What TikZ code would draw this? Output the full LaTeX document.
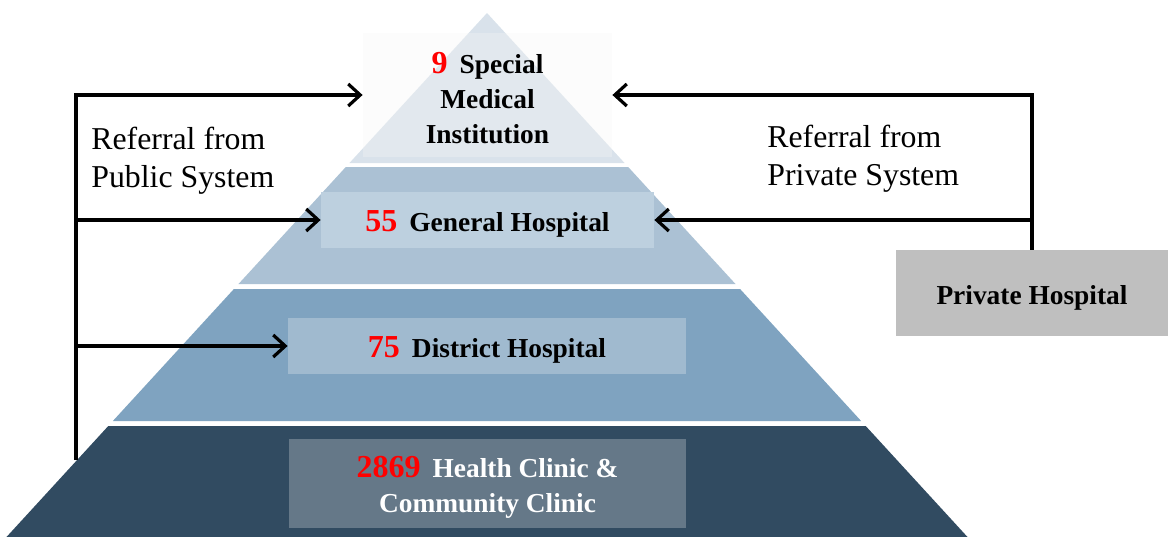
\documentclass[tikz,border=0pt]{standalone}
\usepackage{fontspec}
\setmainfont{Liberation Serif}
\usetikzlibrary{
  arrows.meta,
  positioning
}
\definecolor{tierA}{HTML}{D9E2EB}
\definecolor{tierB}{HTML}{ABC1D4}
\definecolor{tierC}{HTML}{7FA3C0}
\definecolor{tierD}{HTML}{314B61}
\definecolor{boxB}{HTML}{BDD0DF}
\definecolor{boxC}{HTML}{A0BACF}
\definecolor{boxD}{HTML}{657888}
\definecolor{privgray}{HTML}{BFBFBF}
\tikzset{
  lblbox/.style={
    font=\fontsize{13.7}{17.5}\selectfont\bfseries,
    align=center,
    inner sep=0pt,
  },
  oneline/.style={
    lblbox,
    text height=11pt,
    text depth=0pt,
  },
  privbox/.style={
    oneline,
    fill=privgray,
    minimum width=136pt,
    minimum height=43pt,
  },
  reftext/.style={
    font=\fontsize{15.9}{19}\selectfont,
    align=left,
    anchor=west,
    inner sep=0pt,
  },
  arr/.style={
    line width=1.6pt,
    -{Straight Barb[length=6pt,width=11pt]},
  },
}
\newcommand{\cnt}[1]{{\color{red}\fontsize{16}{17}\selectfont #1}\hspace{6pt}}
\newcommand{\tierfill}[3]{%
  \fill[#3] ({487-0.917*(#1-13)},#1) -- ({487+0.917*(#1-13)},#1)
    -- ({487+0.917*(#2-13)},#2) -- ({487-0.917*(#2-13)},#2) -- cycle;}

\begin{document}
\begin{tikzpicture}[x=0.5pt,y=-0.5pt]
  \useasboundingbox (0,0) rectangle (1168,536);

  % pyramid tiers
  \tierfill{13}{163}{tierA}
  \tierfill{167}{284}{tierB}
  \tierfill{289}{421}{tierC}
  \tierfill{426}{540}{tierD}

  % tier labels
  \node[lblbox,fill=gray!8,fill opacity=0.35,
    minimum width=124.5pt,minimum height=62pt] (smi) at (487.5,95) {};
  \node[lblbox] (smitext) at ([yshift=-1.5pt]smi.center)
    {\cnt{9}Special\\Medical\\Institution};
  \node[oneline,fill=boxB,minimum width=166.5pt,minimum height=28pt]
    (gen) at (487.5,220) {\cnt{55}General Hospital};
  \node[oneline,fill=boxC,minimum width=199pt,minimum height=28pt]
    (dist) at (487,346) {\cnt{75}District Hospital};
  \node[lblbox,fill=boxD,minimum width=198.5pt,minimum height=44.5pt]
    (clinic) at (487.5,483.5) {};
  \node[lblbox,text=white] (clinictext) at ([yshift=-2pt]clinic.center)
    {\cnt{2869}Health Clinic \&\\Community Clinic};

  \node[privbox] (priv) at (1032,293) {Private Hospital};

  % referral texts
  \node[reftext] (pubref) at (91,161) {Referral from\\Public System};
  \node[reftext] (privref) at (767,159) {Referral from\\Private System};

  % public referrals
  \coordinate (pubtop) at (76,95);
  \coordinate (pubbot) at (76,460);
  \draw[arr] (pubbot) -- (pubtop) -- (smi.west);
  \draw[arr] (pubtop |- gen.west) -- (gen.west);
  \draw[arr] (pubtop |- dist.west) -- (dist.west);

  % private referrals
  \draw[arr] (priv.north) |- (smi.east);
  \draw[arr] (priv.north) |- (gen.east);
\end{tikzpicture}
\end{document}
